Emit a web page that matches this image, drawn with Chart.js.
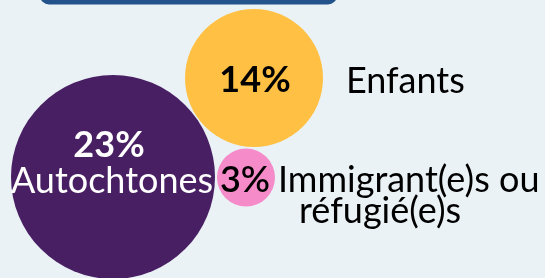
<!DOCTYPE html>
<html lang="fr">
  <head>
    <meta charset="UTF-8" />
    <title>Bulles</title>
    <script src="https://cdn.jsdelivr.net/npm/chart.js@4/dist/chart.umd.min.js"></script>
    <style>
      html,
      body {
        margin: 0;
        padding: 0;
        background: #eaf2f6;
        overflow: hidden;
      }
    </style>
  </head>
  <body>
    <canvas id="bubbles" width="545" height="278"></canvas>
    <script>
      // data
      const categories = ["Autochtones", "Enfants", "Immigrant(e)s ou réfugié(e)s"];
      const percents = [23, 14, 3];
      const bubbleX = [113, 254, 246];
      const bubbleY = [177, 78, 177.5];
      const bubbleR = [102, 69, 29];
      const colors = ["#491f63", "#ffc043", "#f68bca"];

      // label layout: where each label goes relative to its bubble
      const labelFont = "Lato, 'Noto Sans', sans-serif";
      const labels = [
        [
          { text: percents[0] + "%", dx: -4, dy: -20, weight: "bold", color: "#fff", align: "center" },
          { text: categories[0], dx: -1, dy: 16, weight: "normal", color: "#fff", align: "center" }
        ],
        [
          { text: percents[1] + "%", dx: 1, dy: 14, weight: "bold", color: "#000", align: "center" },
          { text: categories[1], dx: 92, dy: 15, weight: "normal", color: "#000", align: "left" }
        ],
        [
          { text: percents[2] + "%", dx: -1, dy: 14.5, weight: "600", color: "#000", align: "center" },
          { text: "Immigrant(e)s ou", dx: 32, dy: 14.5, weight: "normal", color: "#000", align: "left" },
          { text: "réfugié(e)s", dx: 53, dy: 45.5, weight: "normal", color: "#000", align: "left" }
        ]
      ];

      const headerBar = {
        id: "headerBar",
        beforeDraw(chart) {
          const ctx = chart.ctx;
          ctx.save();
          ctx.fillStyle = "#22538a";
          ctx.beginPath();
          ctx.roundRect(40, -20, 297, 24.5, 9);
          ctx.fill();
          ctx.restore();
        }
      };

      const bubbleLabels = {
        id: "bubbleLabels",
        afterDatasetsDraw(chart) {
          const ctx = chart.ctx;
          const meta = chart.getDatasetMeta(0);
          ctx.save();
          ctx.textBaseline = "alphabetic";
          meta.data.forEach(function(pt, i) {
            labels[i].forEach(function(l) {
              ctx.font = l.weight + " 36px " + labelFont;
              ctx.fillStyle = l.color;
              ctx.textAlign = l.align;
              ctx.fillText(l.text, pt.x + l.dx, pt.y + l.dy);
            });
          });
          ctx.restore();
        }
      };

      new Chart(document.getElementById("bubbles"), {
        type: "bubble",
        data: {
          datasets: [
            {
              label: "Part",
              data: percents.map(function(v, i) {
                return { x: bubbleX[i], y: bubbleY[i], r: bubbleR[i], v: v };
              }),
              backgroundColor: colors,
              borderWidth: 0,
              hoverBorderWidth: 0,
              hoverRadius: 0,
              clip: false
            }
          ]
        },
        options: {
          responsive: false,
          animation: false,
          events: [],
          layout: { padding: 0, autoPadding: false },
          plugins: {
            legend: { display: false },
            tooltip: { enabled: false }
          },
          scales: {
            x: { type: "linear", min: 0, max: 545, display: false },
            y: { type: "linear", min: 0, max: 278, reverse: true, display: false }
          }
        },
        plugins: [headerBar, bubbleLabels]
      });
    </script>
  </body>
</html>
